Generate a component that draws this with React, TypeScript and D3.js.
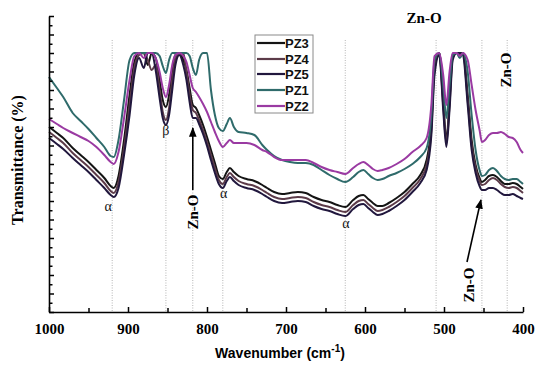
import React, { useEffect, useRef } from "react";
import * as d3 from "d3";

// wavenumber grid (cm-1), shared by all spectra
const wavenumbers = [
  1000, 990, 982, 970, 960, 950, 940, 930, 922, 918,
  912, 905, 898, 892, 886, 880, 875, 870, 865, 860,
  856, 852, 848, 844, 840, 835, 830, 826, 822, 818,
  814, 810, 805, 800, 795, 790, 785, 780, 775, 771,
  766, 760, 750, 740, 730, 724, 715, 705, 695, 685,
  675, 665, 655, 645, 635, 625, 615, 608, 602, 596,
  590, 584, 578, 570, 560, 550, 540, 530, 522, 516,
  512, 506, 501, 497, 493, 489, 484, 480, 476, 470,
  465, 460, 455, 452, 448, 443, 438, 433, 428, 423,
  418, 413, 408, 403, 400,
];

// transmittance (arbitrary units, detector saturates at 259)
const pz3 = [
  185, 179, 174, 164, 157, 150, 142, 134, 126, 124,
  136, 172, 217, 250, 259, 259, 247, 259, 254, 232,
  212, 205, 217, 242, 257, 259, 252, 242, 224, 207,
  204, 197, 187, 175, 162, 149, 136, 133, 140, 144,
  140, 136, 133, 131, 127, 124, 120, 118, 119, 120,
  119, 115, 112, 110, 107, 105, 112, 116, 117, 113,
  109, 106, 106, 109, 114, 120, 128, 137, 152, 187,
  247, 259, 212, 172, 212, 257, 259, 259, 259, 217,
  172, 147, 134, 130, 132, 136, 137, 135, 131, 128,
  128, 129, 128, 125, 123,
];
const pz4 = [
  180, 174, 169, 159, 152, 145, 137, 129, 121, 119,
  130, 164, 207, 244, 257, 259, 252, 242, 247, 222,
  200, 192, 204, 232, 252, 259, 259, 240, 217, 202,
  199, 192, 182, 170, 157, 144, 132, 128, 135, 139,
  135, 131, 128, 126, 122, 119, 115, 113, 114, 115,
  114, 110, 107, 105, 102, 100, 107, 111, 112, 108,
  104, 101, 102, 105, 110, 116, 124, 133, 147, 182,
  242, 259, 207, 169, 207, 254, 259, 257, 259, 212,
  167, 144, 131, 127, 128, 132, 134, 132, 128, 125,
  124, 125, 124, 121, 119,
];
const pz5 = [
  174, 168, 163, 154, 147, 140, 132, 124, 117, 115,
  124, 157, 197, 237, 254, 244, 259, 259, 242, 214,
  194, 187, 197, 222, 247, 257, 247, 232, 210, 194,
  194, 188, 178, 166, 152, 139, 128, 124, 131, 135,
  131, 127, 124, 122, 118, 115, 111, 109, 110, 111,
  110, 106, 103, 101, 98, 96, 103, 107, 108, 104,
  100, 97, 98, 101, 106, 112, 120, 129, 142, 177,
  237, 257, 202, 165, 202, 252, 259, 259, 257, 207,
  162, 139, 126, 122, 122, 124, 124, 122, 119, 117,
  117, 118, 116, 114, 113,
];
const pz1 = [
  235, 224, 215, 199, 191, 183, 174, 165, 156, 155,
  172, 212, 252, 259, 259, 259, 259, 259, 259, 256,
  246, 239, 252, 259, 259, 259, 259, 259, 256, 244,
  237, 252, 259, 259, 222, 197, 184, 181, 188, 194,
  185, 180, 179, 177, 167, 162, 156, 152, 150, 149,
  149, 147, 142, 137, 133, 130, 135, 140, 142, 138,
  134, 132, 133, 136, 139, 143, 148, 155, 164, 197,
  252, 259, 227, 194, 227, 257, 259, 254, 259, 240,
  197, 162, 142, 136, 137, 142, 144, 141, 136, 133,
  132, 133, 133, 130, 128,
];
const pz2 = [
  193, 188, 184, 179, 175, 171, 165, 157, 150, 148,
  160, 194, 232, 256, 259, 254, 259, 259, 254, 240,
  224, 215, 227, 247, 257, 259, 256, 250, 237, 224,
  220, 215, 208, 200, 190, 180, 171, 165, 169, 172,
  169, 169, 169, 167, 162, 160, 155, 152, 152, 152,
  152, 149, 145, 142, 140, 138, 144, 148, 150, 147,
  143, 141, 142, 144, 148, 153, 160, 166, 174, 207,
  256, 259, 237, 207, 240, 259, 259, 256, 259, 252,
  227, 202, 182, 170, 172, 177, 179, 179, 180, 178,
  175, 174, 170, 162, 159,
];

const seriesNames = ["PZ3", "PZ4", "PZ5", "PZ1", "PZ2"];
const seriesValues = [pz3, pz4, pz5, pz1, pz2];
const seriesColors = ["#141414", "#5c3b49", "#21173d", "#2f6b6b", "#9a3aa2"];

const peakLines = [920, 852, 818, 780, 625, 510, 452, 420];
const xMajorTicks = [1000, 900, 800, 700, 600, 500, 400];
const xMinorTicks = [950, 850, 750, 650, 550, 450];

const bandLabels = [
  { w: 925, t: 101, text: "α" },
  { w: 852, t: 177, text: "β" },
  { w: 779, t: 114, text: "α" },
  { w: 624, t: 84, text: "α" },
];

const serif = "'Liberation Serif', 'Times New Roman', serif";
const sans = "'Liberation Sans', Arial, sans-serif";

export default function App() {
  const axisRef = useRef<SVGGElement>(null);

  const width = 536;
  const height = 367;
  const x = d3.scaleLinear().domain([1000, 400]).range([49, 523]);
  const y = d3.scaleLinear().domain([0, 296]).range([312, 16]);

  const line = d3
    .line<number>()
    .x((d, i) => x(wavenumbers[i]))
    .y((d) => y(d))
    .curve(d3.curveMonotoneX);

  useEffect(() => {
    const g = d3.select(axisRef.current);
    g.selectAll("*").remove();

    // bottom axis, major ticks with labels
    const xa = g
      .append("g")
      .attr("transform", "translate(0,312)")
      .call(
        d3.axisBottom(x).tickValues(xMajorTicks).tickSizeInner(-5).tickSizeOuter(0).tickPadding(11).tickFormat(d3.format("d"))
      );
    xa.select(".domain").attr("stroke", "#000").attr("stroke-width", 1.6);
    xa.selectAll(".tick line").attr("stroke-width", 1.5);
    xa.selectAll("text")
      .attr("font-family", serif)
      .attr("font-weight", "bold")
      .attr("font-size", 15)
      .attr("fill", "#000");

    const xm = g
      .append("g")
      .attr("transform", "translate(0,312)")
      .call(d3.axisBottom(x).tickValues(xMinorTicks).tickSizeInner(-4).tickSizeOuter(0).tickFormat(() => ""));
    xm.select(".domain").remove();
    xm.selectAll(".tick line").attr("stroke-width", 1.5);

    // left axis, unlabeled
    const yTicks = d3.range(0, 33).map((i) => i * 9.25);
    const ya = g
      .append("g")
      .attr("transform", "translate(49,0)")
      .call(
        d3.axisLeft(y).tickValues(yTicks.filter((d, i) => i % 2 === 0)).tickSizeInner(-5).tickSizeOuter(0).tickFormat(() => "")
      );
    ya.select(".domain").attr("stroke-width", 1.6);
    ya.selectAll(".tick line").attr("stroke-width", 1.5);
    const ym = g
      .append("g")
      .attr("transform", "translate(49,0)")
      .call(
        d3.axisLeft(y).tickValues(yTicks.filter((d, i) => i % 2 === 1)).tickSizeInner(-3.5).tickSizeOuter(0).tickFormat(() => "")
      );
    ym.select(".domain").remove();
    ym.selectAll(".tick line").attr("stroke-width", 1.5);
  }, []);

  const legendY = [43, 59, 74, 90, 106];

  return (
    <svg
      width={width}
      height={height}
      style={{ position: "absolute", left: 0, top: 0, background: "#fff" }}
    >
      <defs>
        <marker id="arrow" viewBox="0 0 10 10" refX="9" refY="5" markerWidth="6" markerHeight="6" orient="auto">
          <path d="M0,1 L10,5 L0,9 z" fill="#000" />
        </marker>
      </defs>
      <rect width={width} height={height} fill="#fff" />

      {peakLines.map((w) => (
        <line
          key={w}
          x1={x(w)}
          x2={x(w)}
          y1={40}
          y2={312}
          stroke="#b5b5b5"
          strokeWidth={1}
          strokeDasharray="1,1.5"
        />
      ))}

      {seriesValues.map((vals, i) => (
        <path
          key={seriesNames[i]}
          d={line(vals) || ""}
          fill="none"
          stroke={seriesColors[i]}
          strokeWidth={2}
          strokeLinejoin="round"
        />
      ))}

      <g ref={axisRef} />

      {bandLabels.map((b, i) => (
        <text
          key={i}
          x={x(b.w)}
          y={y(b.t)}
          textAnchor="middle"
          fontFamily={serif}
          fontSize={14}
          fill="#111"
        >
          {b.text}
        </text>
      ))}

      {/* Zn-O at 818 */}
      <line x1={x(818)} x2={x(818)} y1={190} y2={128} stroke="#000" strokeWidth={1.6} markerEnd="url(#arrow)" />
      <text
        transform={`translate(${x(818) + 5},212) rotate(-90)`}
        textAnchor="middle"
        fontFamily={serif}
        fontWeight="bold"
        fontSize={15}
      >
        Zn-O
      </text>

      {/* Zn-O at 452 */}
      <line x1={467} x2={x(452) - 1} y1={262} y2={200} stroke="#000" strokeWidth={1.6} markerEnd="url(#arrow)" />
      <text
        transform={`translate(474,285) rotate(-90)`}
        textAnchor="middle"
        fontFamily={serif}
        fontWeight="bold"
        fontSize={15}
      >
        Zn-O
      </text>

      {/* Zn-O at 510 (top) */}
      <text x={x(510) - 12} y={23} textAnchor="middle" fontFamily={serif} fontWeight="bold" fontSize={15}>
        Zn-O
      </text>

      {/* Zn-O at 420 */}
      <text
        transform={`translate(${x(420) + 4},70) rotate(-90)`}
        textAnchor="middle"
        fontFamily={serif}
        fontWeight="bold"
        fontSize={15}
      >
        Zn-O
      </text>

      {/* legend */}
      <rect x={255} y={35} width={58} height={78} fill="#fff" stroke="#8a8a8a" strokeWidth={1} />
      {seriesNames.map((n, i) => (
        <g key={n}>
          <line x1={257} x2={285} y1={legendY[i]} y2={legendY[i]} stroke={seriesColors[i]} strokeWidth={2.2} />
          <text x={285} y={legendY[i] + 5} fontFamily={sans} fontWeight="bold" fontSize={13} fill="#111">
            {n}
          </text>
        </g>
      ))}

      {/* axis titles */}
      <text x={280} y={358} textAnchor="middle" fontFamily={sans} fontWeight="bold" fontSize={14}>
        Wavenumber (cm
        <tspan dy={-6} fontSize={10}>
          -1
        </tspan>
        <tspan dy={6}>)</tspan>
      </text>
      <text
        transform="translate(23,160) rotate(-90)"
        textAnchor="middle"
        fontFamily={serif}
        fontWeight="bold"
        fontSize={16}
      >
        Transmittance (%)
      </text>
    </svg>
  );
}
